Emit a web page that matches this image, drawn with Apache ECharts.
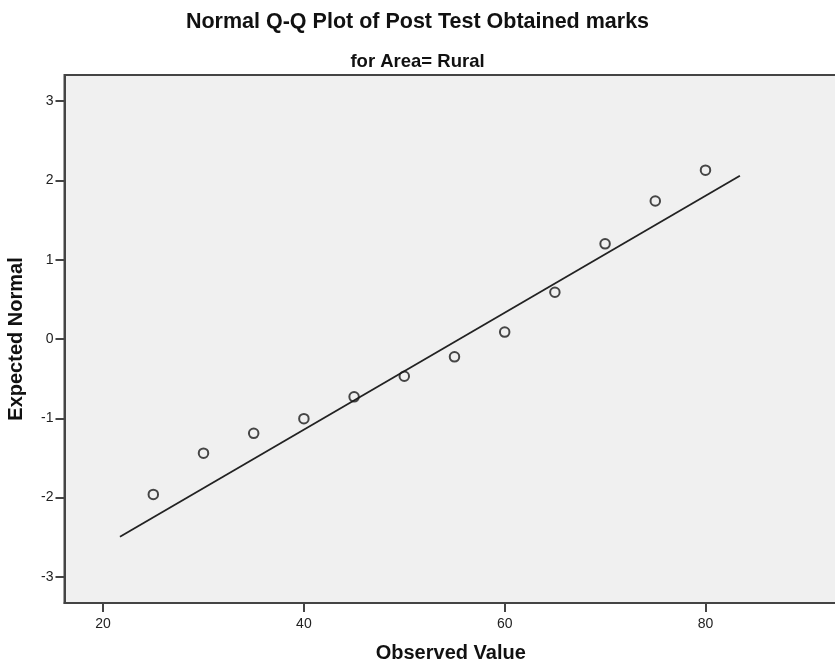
<!DOCTYPE html>
<html>
<head>
<meta charset="utf-8">
<script src="https://cdn.jsdelivr.net/npm/echarts@6/dist/echarts.min.js"></script>
<style>
html,body{margin:0;padding:0;background:#fff;}
#chart{width:835px;height:664px;}
</style>
</head>
<body>
<div id="chart"></div>
<script>
// Data
var observedValues = [25, 30, 35, 40, 45, 50, 55, 60, 65, 70, 75, 80];
var expectedNormal = [-1.96, -1.44, -1.19, -1.005, -0.73, -0.47, -0.225, 0.087, 0.59, 1.20, 1.74, 2.13];
var refLineX = [21.68, 83.43];
var refLineY = [-2.495, 2.06];
var xTicks = [20, 40, 60, 80];
var yTicks = [-3, -2, -1, 0, 1, 2, 3];

var points = observedValues.map(function (v, i) { return [v, expectedNormal[i]]; });
var line = refLineX.map(function (v, i) { return [v, refLineY[i]]; });

var chart = echarts.init(document.getElementById('chart'), null, {renderer: 'canvas'});
var fontFam = 'Liberation Sans, Arial, sans-serif';
chart.setOption({
  backgroundColor: '#ffffff',
  animation: false,
  title: [
    {text: 'Normal Q-Q Plot of Post Test Obtained marks', left: 'center', top: 6,
     textStyle: {fontFamily: fontFam, fontSize: 21.5, fontWeight: 'bold', color: '#111'}},
    {text: 'for Area= Rural', left: 'center', top: 47.5,
     textStyle: {fontFamily: fontFam, fontSize: 18.5, fontWeight: 'bold', color: '#111'}}
  ],
  grid: {left: 64.5, top: 75, right: -2, bottom: 61, show: true, outerBoundsMode: 'none',
         backgroundColor: '#f0f0f0', borderColor: '#444', borderWidth: 2},
  xAxis: {
    type: 'value', min: 16.155, max: 93.1,
    name: 'Observed Value', nameLocation: 'middle', nameGap: 40.5,
    nameTextStyle: {fontFamily: fontFam, fontSize: 20, fontWeight: 'bold', color: '#111'},
    axisLine: {show: true, onZero: false, lineStyle: {color: '#444', width: 2}},
    axisTick: {show: true, inside: false, length: 9, customValues: xTicks, lineStyle: {color: '#444', width: 2}},
    axisLabel: {customValues: xTicks, margin: 14, fontFamily: fontFam, fontSize: 14, color: '#222'},
    splitLine: {show: false}
  },
  yAxis: {
    type: 'value', min: -3.33, max: 3.33,
    name: 'Expected Normal', nameLocation: 'middle', nameGap: 38,
    nameTextStyle: {fontFamily: fontFam, fontSize: 20, fontWeight: 'bold', color: '#111'},
    axisLine: {show: true, onZero: false, lineStyle: {color: '#444', width: 2}},
    axisTick: {show: true, inside: false, length: 9, customValues: yTicks, lineStyle: {color: '#444', width: 2}},
    axisLabel: {customValues: yTicks, margin: 11, fontFamily: fontFam, fontSize: 14, color: '#222'},
    splitLine: {show: false}
  },
  series: [
    {type: 'line', data: line, symbol: 'none', silent: true,
     lineStyle: {color: '#222', width: 1.8}, z: 2},
    {type: 'scatter', data: points, symbol: 'circle', symbolSize: 9.5,
     itemStyle: {color: 'rgba(0,0,0,0)', borderColor: '#1a1a1a', borderWidth: 2}, z: 3}
  ]
});
</script>
</body>
</html>
